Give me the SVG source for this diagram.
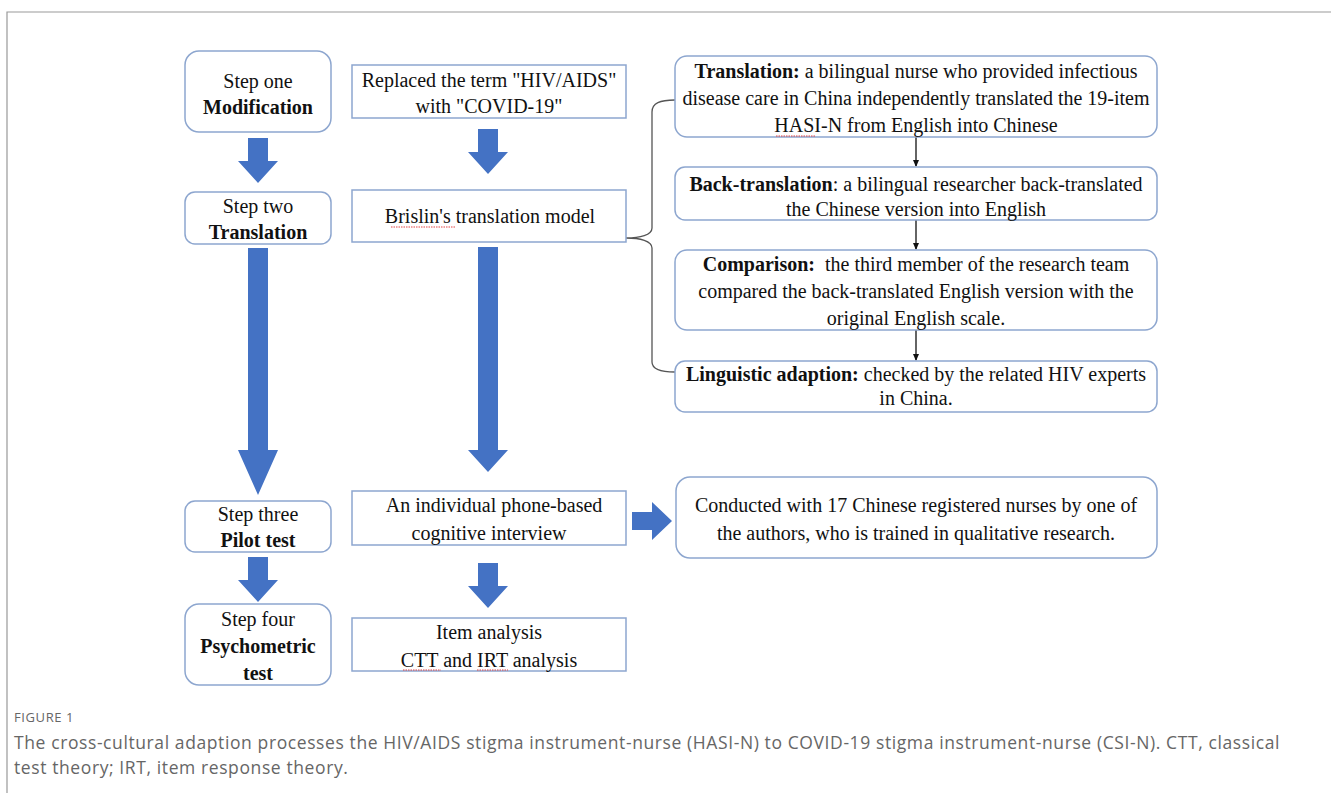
<svg xmlns="http://www.w3.org/2000/svg" width="1331" height="793" viewBox="0 0 1331 793">
<style>
.t{font-family:"Liberation Serif","Times New Roman",serif;font-size:20px;fill:#111;text-anchor:middle}
.b{font-weight:bold}
.rb{fill:#fff;stroke:#8da6cf;stroke-width:1.5}
.sq{fill:#fff;stroke:#8da6cf;stroke-width:1.5}
.blue{fill:#4472c4}
.thin{stroke:#111;stroke-width:1.3;fill:none}
.brace{stroke:#555;stroke-width:1.3;fill:none}
.sp{stroke:#e03030;stroke-width:0.9;fill:none;stroke-dasharray:1.5 1}
.cap{font-family:"Open Sans","Noto Sans",sans-serif;fill:#666}
</style>
<defs>
<marker id="ah" markerWidth="8" markerHeight="8" refX="6" refY="4" orient="auto" markerUnits="userSpaceOnUse">
<path d="M0,1 L7,4 L0,7 Z" fill="#111"/>
</marker>
<path id="dn" d="M-10,0 H10 V23 H20 L0,45 L-20,23 H-10 Z"/>
</defs>
<rect width="1331" height="793" fill="#fff"/>
<path d="M7,793 V12 H1331" fill="none" stroke="#999" stroke-width="1.2"/>

<g id="connectors">
<path class="brace" d="M675,100 C660,100 652,103 652,112 L652,228 C652,235 640,238 626,238 C640,238 652,241 652,248 L652,362 C652,369 660,372 675,372"/>
<line class="thin" x1="916" y1="137" x2="916" y2="166" marker-end="url(#ah)"/>
<line class="thin" x1="916" y1="220" x2="916" y2="249" marker-end="url(#ah)"/>
<line class="thin" x1="916" y1="330" x2="916" y2="360" marker-end="url(#ah)"/>
<use href="#dn" class="blue" x="258" y="138"/>
<path class="blue" d="M248,248 H268 V450 H278 L258,495 L238,450 H248 Z"/>
<use href="#dn" class="blue" x="258" y="557"/>
<use href="#dn" class="blue" x="488" y="129"/>
<path class="blue" d="M478,247 H498 V450 H508 L488,472 L468,450 H478 Z"/>
<use href="#dn" class="blue" x="488" y="563"/>
<path class="blue" d="M632,512 H652 V502 L672,521 L652,540 V530 H632 Z"/>
</g>

<g id="step1"><rect class="rb" x="185" y="51" width="146" height="81" rx="14"/>
<text class="t" x="258" y="88">Step one</text><text class="t b" x="258" y="114">Modification</text></g>
<g id="step2"><rect class="rb" x="185" y="192" width="146" height="52" rx="10"/>
<text class="t" x="258" y="213">Step two</text><text class="t b" x="258" y="239">Translation</text></g>
<g id="step3"><rect class="rb" x="185" y="501" width="146" height="51" rx="10"/>
<text class="t" x="258" y="521">Step three</text><text class="t b" x="258" y="547">Pilot test</text></g>
<g id="step4"><rect class="rb" x="185" y="604" width="146" height="81" rx="14"/>
<text class="t" x="258" y="626">Step four</text><text class="t b" x="258" y="653">Psychometric</text><text class="t b" x="258" y="680">test</text></g>

<g id="replaced"><rect class="sq" x="352" y="65" width="274" height="53"/>
<text class="t" x="489" y="87">Replaced the term "HIV/AIDS"</text><text class="t" x="489" y="113">with "COVID-19"</text></g>
<g id="brislin"><rect class="sq" x="352" y="190" width="274" height="52"/>
<text class="t" x="490" y="223">Brislin's translation model</text>
<path class="sp" d="M391,227 H456"/></g>
<g id="phone"><rect class="sq" x="352" y="491" width="274" height="54"/>
<text class="t" x="494" y="512">An individual phone-based</text><text class="t" x="489" y="540">cognitive interview</text></g>
<g id="item"><rect class="sq" x="352" y="618" width="274" height="53"/>
<text class="t" x="489" y="639">Item analysis</text><text class="t" x="489" y="667">CTT and IRT analysis</text>
<path class="sp" d="M403,670 H441 M477,670 H508"/></g>

<g id="translation"><rect class="rb" x="675" y="56" width="482" height="81" rx="12"/>
<text class="t" x="916" y="78"><tspan class="b">Translation:</tspan> a bilingual nurse who provided infectious</text>
<text class="t" x="916" y="105">disease care in China independently translated the 19-item</text>
<text class="t" x="916" y="132">HASI-N from English into Chinese</text>
<path class="sp" d="M776,136 H816"/></g>
<g id="back"><rect class="rb" x="675" y="167" width="482" height="53" rx="10"/>
<text class="t" x="916" y="191"><tspan class="b">Back-translation</tspan>: a bilingual researcher back-translated</text>
<text class="t" x="916" y="216">the Chinese version into English</text></g>
<g id="comparison"><rect class="rb" x="675" y="250" width="482" height="80" rx="12"/>
<text class="t" x="916" y="271"><tspan class="b">Comparison:</tspan>&#160; the third member of the research team</text>
<text class="t" x="916" y="298">compared the back-translated English version with the</text>
<text class="t" x="916" y="325">original English scale.</text></g>
<g id="linguistic"><rect class="rb" x="675" y="361" width="482" height="51" rx="10"/>
<text class="t" x="916" y="381"><tspan class="b">Linguistic adaption:</tspan> checked by the related HIV experts</text>
<text class="t" x="916" y="405">in China.</text></g>
<g id="conducted"><rect class="rb" x="676" y="477" width="481" height="81" rx="14"/>
<text class="t" x="916" y="512">Conducted with 17 Chinese registered nurses by one of</text>
<text class="t" x="916" y="540">the authors, who is trained in qualitative research.</text></g>

<g id="caption">
<text class="cap" x="14" y="722" font-size="13" letter-spacing="0.6">FIGURE 1</text>
<text class="cap" x="14" y="749" font-size="17.5" letter-spacing="0.6">The cross-cultural adaption processes the HIV/AIDS stigma instrument-nurse (HASI-N) to COVID-19 stigma instrument-nurse (CSI-N). CTT, classical</text>
<text class="cap" x="14" y="774" font-size="17.5" letter-spacing="0.6">test theory; IRT, item response theory.</text>
</g>
</svg>
